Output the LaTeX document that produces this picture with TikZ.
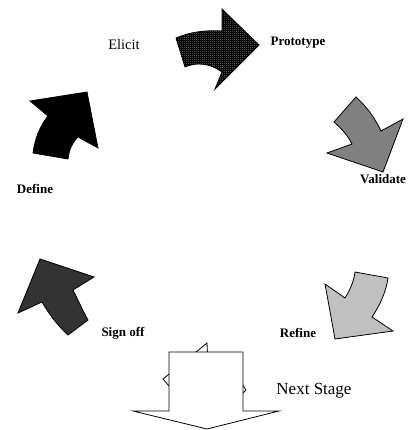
\documentclass[tikz,border=0pt]{standalone}
\usepackage{fontspec}
\setmainfont{Liberation Serif}
\usepackage{xcolor}
\usepackage{tikz}
\usetikzlibrary{patterns}
\definecolor{signgray}{HTML}{333333}
\definecolor{validgray}{HTML}{808080}
\definecolor{refinegray}{HTML}{C0C0C0}
\pgfdeclarepatternformonly{fine dots}{\pgfpointorigin}{\pgfqpoint{2pt}{2pt}}{\pgfqpoint{2pt}{2pt}}%
    {\pgfpathrectangle{\pgfpointorigin}{\pgfqpoint{1pt}{1pt}}\pgfusepath{fill}}
\tikzstyle{stage arrow}=[draw=black, line width=0.8pt, line join=miter]
\tikzstyle{stage label}=[font=\bfseries\fontsize{13}{15}\selectfont, inner sep=0pt]
\tikzstyle{plain label}=[font=\fontsize{14.5}{17}\selectfont, inner sep=0pt]

\begin{document}
\begin{tikzpicture}[x=1pt, y=-1pt]
        \useasboundingbox (0,0) rectangle (409,430);
        % cycle arrows
        \draw[style=stage arrow, preaction={fill=black}, pattern=fine dots, pattern color=gray!55]
            (176,38) .. controls (190,32) and (205,30) .. (222,31) -- (222,9) -- (259,45)
            -- (215,89) -- (222,72) .. controls (210,63) and (196,62) .. (185,67) -- cycle;
        \draw[style=stage arrow, fill=validgray]
            (356,97) -- (334,122) .. controls (342,129) and (348,136) .. (352,144) -- (327,153)
            -- (383,172) -- (403,119) -- (381,131) .. controls (375,118) and (366,106) .. (356,97) -- cycle;
        \draw[style=stage arrow, fill=refinegray]
            (355,272) -- (388,278) .. controls (386,292) and (380,305) .. (372,317) -- (393,331)
            -- (335,339) -- (325,284) -- (345,298) .. controls (350,290) and (354,281) .. (355,272) -- cycle;
        \draw[style=stage arrow, fill=white]
            (163,379) -- (207,343) -- (208,366) .. controls (222,370) and (233,376) .. (242,384)
            -- (246,390) -- (240,396) .. controls (230,392) and (218,390) .. (206,390) -- (193,414) -- cycle;
        \draw[style=stage arrow, fill=signgray]
            (40,259) -- (94,277) -- (73,290) .. controls (78,300) and (83,311) .. (88,320)
            -- (68,335) .. controls (58,326) and (49,314) .. (42,302) -- (18,313) -- cycle;
        \draw[style=stage arrow, fill=black]
            (30,101) -- (87,92) -- (98,148) -- (78,137) .. controls (72,143) and (69,150) .. (68,159)
            -- (33,153) .. controls (35,138) and (40,126) .. (48,116) -- cycle;
        % next stage arrow
        \draw[style=stage arrow, fill=white]
            (169,352) -- (243,352) -- (243,411) -- (279,411) -- (207,429) -- (133,411) -- (169,411) -- cycle;
        % labels
        \node[style=plain label] (elicit) at (124,45) {Elicit};
        \node[style=stage label] (prototype) at (298,43) {Prototype};
        \node[style=stage label, anchor=west] (validate) at (360,179) {Validate};
        \node[style=stage label] (refine) at (298,333) {Refine};
        \node[style=stage label] (signoff) at (123,333) {Sign off};
        \node[style=stage label] (define) at (35,189) {Define};
        \node[style=plain label, font=\fontsize{17}{20}\selectfont] (nextstage) at (314,391) {Next Stage};
\end{tikzpicture}
\end{document}
